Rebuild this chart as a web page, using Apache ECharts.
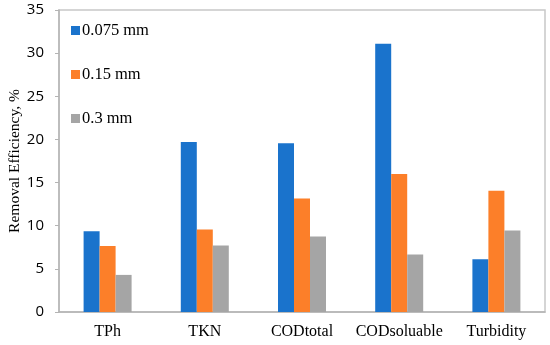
<!DOCTYPE html>
<html><head><meta charset="utf-8">
<script src="https://cdn.jsdelivr.net/npm/echarts@6/dist/echarts.min.js"></script>
<style>html,body{margin:0;padding:0;background:#fff}#c{width:550px;height:345px}</style>
</head><body><div id="c"></div>
<script>
const categories = ['TPh', 'TKN', 'CODtotal', 'CODsoluable', 'Turbidity'];
const seriesNames = ['0.075 mm', '0.15 mm', '0.3 mm'];
const s075 = [9.35, 19.7, 19.55, 31.1, 6.1];
const s015 = [7.65, 9.55, 13.15, 16.0, 14.05];
const s03 = [4.3, 7.7, 8.75, 6.65, 9.45];
const yTicks = [0, 5, 10, 15, 20, 25, 30, 35];
const colors = ['#1a73cc', '#fc7f29', '#a5a5a5'];

const chart = echarts.init(document.getElementById('c'), null, {renderer: 'canvas'});
const serif = '"Liberation Serif", "Times New Roman", serif';
const mk = (name, data, i) => ({
  name, type: 'bar', data, barWidth: 16, barGap: '0%',
  itemStyle: {color: colors[i]}, animation: false
});
chart.setOption({
  animation: false,
  grid: {left: 59, right: 5, top: 10, bottom: 33, show: true, borderColor: '#c8c8c8', borderWidth: 1.5, containLabel: false, outerBoundsMode: 'none'},
  legend: {
    orient: 'vertical', left: 66, top: 17, itemGap: 27, itemWidth: 9, itemHeight: 9,
    icon: 'rect', data: seriesNames,
    textStyle: {fontFamily: serif, fontSize: 16.5, color: '#000', padding: [0, 0, 0, -3]}
  },
  xAxis: {
    type: 'category', data: categories,
    axisLine: {lineStyle: {color: '#b4b4b4', width: 1.5}},
    axisTick: {show: false},
    axisLabel: {fontFamily: serif, fontSize: 16, color: '#000', margin: 12, interval: 0}
  },
  yAxis: {
    type: 'value', min: yTicks[0], max: yTicks[yTicks.length - 1], interval: 5,
    name: 'Removal Efficiency, %', nameLocation: 'middle', nameGap: 36, nameMoveOverlap: false,
    nameTextStyle: {fontFamily: serif, fontSize: 15.5, color: '#000'},
    axisLine: {show: true, lineStyle: {color: '#b4b4b4', width: 1.5}},
    axisTick: {show: true, length: 4, lineStyle: {color: '#b4b4b4'}},
    splitLine: {show: false},
    axisLabel: {fontFamily: '"Open Sans", "Noto Sans", sans-serif', fontSize: 15, color: '#000', margin: 15}
  },
  series: [mk(seriesNames[0], s075, 0), mk(seriesNames[1], s015, 1), mk(seriesNames[2], s03, 2)]
});
</script></body></html>
